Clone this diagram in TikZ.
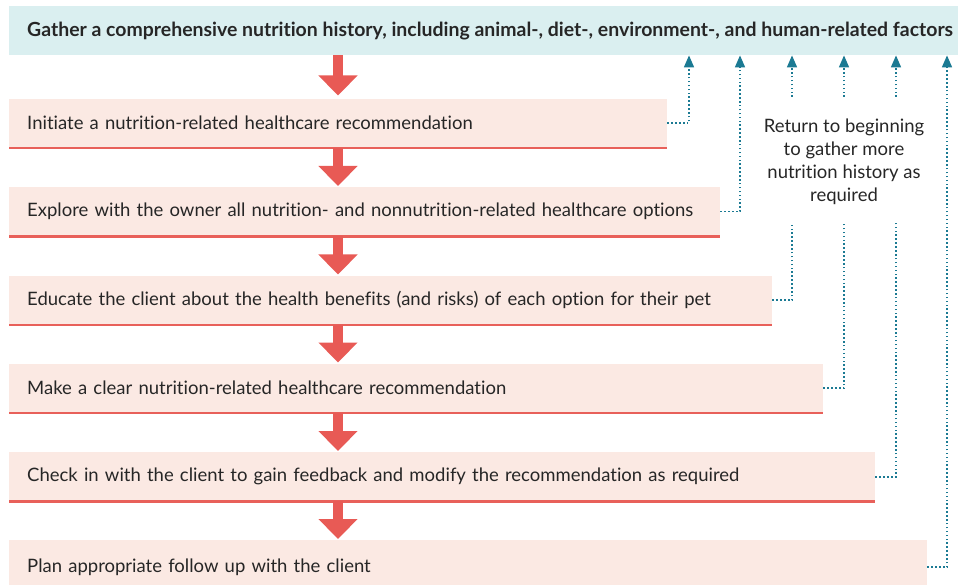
\documentclass[tikz,border=0pt]{standalone}
\usepackage{fontspec}
\setmainfont{Lato}[Ligatures=NoCommon]
\usetikzlibrary{arrows.meta}
\definecolor{barfill}{HTML}{DAEFF0}
\definecolor{boxfill}{HTML}{FBE9E3}
\definecolor{redl}{HTML}{E8605A}
\definecolor{arrred}{HTML}{E85A55}
\definecolor{tealc}{HTML}{1B7A93}
\definecolor{textc}{HTML}{262626}
\begin{document}
\begin{tikzpicture}[x=1pt,y=-1pt,
  stepbox/.style={fill=boxfill, anchor=north west, minimum height=49pt, inner xsep=18pt, inner ysep=0pt, align=left, font=\fontsize{18.5}{23}\selectfont, text=textc},
  topbar/.style={fill=barfill, anchor=north west, minimum height=49pt, inner xsep=18pt, inner ysep=0pt, align=left, font=\fontsize{19.45}{23}\selectfont\bfseries, text=textc},
  underline/.style={draw=redl, line width=2.5pt},
  bigarrow/.style={draw=arrred, line width=10pt, -{Triangle[width=38pt,length=20pt,fill=arrred]}},
  conn/.style={draw=tealc, line width=1.6pt, dash pattern=on 1.5pt off 2.4pt},
  connarrow/.style={conn, -{Triangle[width=10pt,length=12pt,fill=tealc]}}
]
\useasboundingbox (0,0) rectangle (958,585);

\node[topbar, minimum width=949pt] (top) at (9,6) {Gather a comprehensive nutrition history, including animal-, diet-, environment-, and human-related factors};

\node[stepbox, minimum width=658pt, text width=622pt] (b1) at (9,98.5) {Initiate a nutrition-related healthcare recommendation};
\node[stepbox, minimum width=711pt, text width=675pt] (b2) at (9,187) {Explore with the owner all nutrition- and nonnutrition-related healthcare options};
\node[stepbox, minimum width=763pt, text width=727pt] (b3) at (9,275.5) {Educate the client about the health benefits (and risks) of each option for their pet};
\node[stepbox, minimum width=814pt, text width=778pt] (b4) at (9,363.5) {Make a clear nutrition-related healthcare recommendation};
\node[stepbox, minimum width=866pt, text width=830pt] (b5) at (9,452) {Check in with the client to gain feedback and modify the recommendation as required};
\node[stepbox, minimum width=918pt, text width=882pt, minimum height=54pt] (b6) at (9,540) {Plan appropriate follow up with the client};

\foreach \b in {b1,b2,b3,b4,b5}{
  \draw[underline] (\b.south west) -- (\b.south east);
}

\coordinate (ax) at (338,0);
\draw[bigarrow] (top.south -| ax) -- ([yshift=3pt]b1.north -| ax);
\draw[bigarrow] (b1.south -| ax) -- ([yshift=1pt]b2.north -| ax);
\draw[bigarrow] (b2.south -| ax) -- ([yshift=1pt]b3.north -| ax);
\draw[bigarrow] (b3.south -| ax) -- ([yshift=1pt]b4.north -| ax);
\draw[bigarrow] (b4.south -| ax) -- ([yshift=1pt]b5.north -| ax);
\draw[bigarrow] (b5.south -| ax) -- ([yshift=1pt]b6.north -| ax);

\coordinate (c1) at (689,0);
\coordinate (c2) at (740,0);
\coordinate (c3) at (792,0);
\coordinate (c4) at (844,0);
\coordinate (c5) at (896,0);
\coordinate (c6) at (947,0);
\coordinate (lowstub) at (0,223);
\coordinate (upstub) at (0,97);

\draw[connarrow] (b1.east) -- (b1.east -| c1) -- (top.south -| c1);
\draw[connarrow] (b2.east) -- (b2.east -| c2) -- (top.south -| c2);
\draw[conn] (b3.east) -- (b3.east -| c3) -- (lowstub -| c3);
\draw[conn] (b4.east) -- (b4.east -| c4) -- (lowstub -| c4);
\draw[conn] (b5.east) -- (b5.east -| c5) -- (lowstub -| c5);
\draw[connarrow] (upstub -| c3) -- (top.south -| c3);
\draw[connarrow] (upstub -| c4) -- (top.south -| c4);
\draw[connarrow] (upstub -| c5) -- (top.south -| c5);
\draw[connarrow] (b6.east) -- (b6.east -| c6) -- (top.south -| c6);

\node[font=\fontsize{18.5}{23}\selectfont, text=textc, align=center] (ret) at (844,162) {Return to beginning\\to gather more\\nutrition history as\\required};
\end{tikzpicture}
\end{document}
